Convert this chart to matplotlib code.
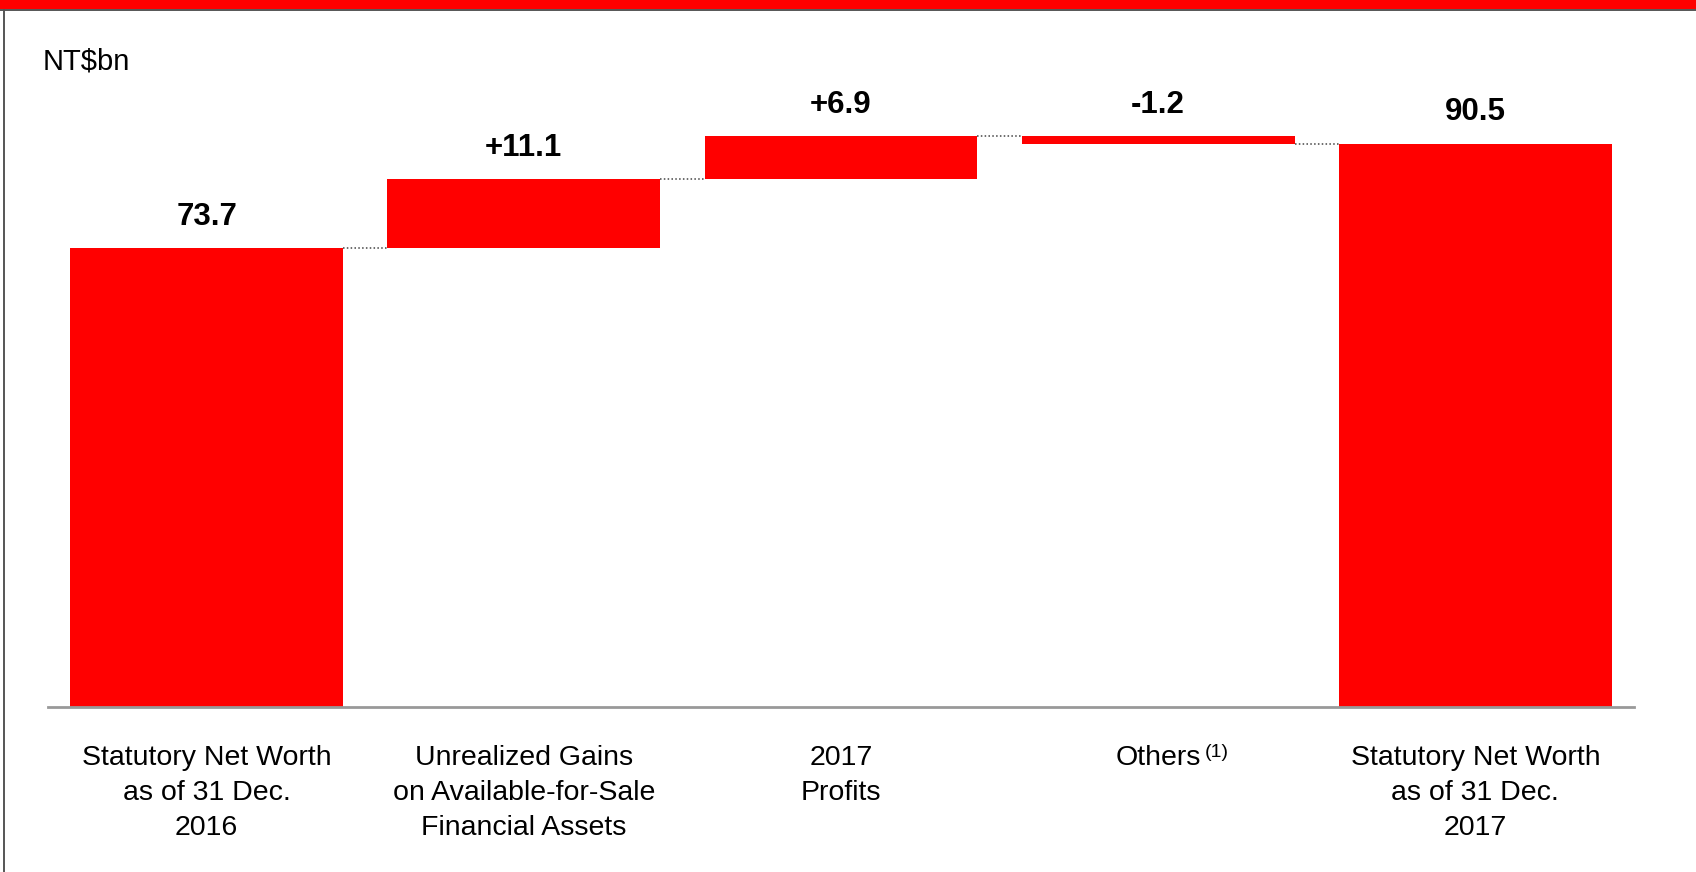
import matplotlib
matplotlib.use("Agg")
import matplotlib.pyplot as plt
from matplotlib.patches import Rectangle
from matplotlib.lines import Line2D
import numpy as np

plt.rcParams['font.family'] = ['Liberation Sans', 'DejaVu Sans']

# net worth bridge, NT$bn
categories = ["Statutory Net Worth\nas of 31 Dec.\n2016",
              "Unrealized Gains\non Available-for-Sale\nFinancial Assets",
              "2017\nProfits",
              "Others",
              "Statutory Net Worth\nas of 31 Dec.\n2017"]
changes = [73.7, 11.1, 6.9, -1.2, 90.5]
kinds = ["total", "delta", "delta", "delta", "total"]
value_labels = ["73.7", "+11.1", "+6.9", "-1.2", "90.5"]

RED = "#ff0000"

# work out floating bar bottoms/tops
bottoms, tops = [], []
running = 0.0
for v, k in zip(changes, kinds):
    if k == "total":
        bottoms.append(0.0)
        tops.append(v)
        running = v
    else:
        new = running + v
        bottoms.append(min(running, new))
        tops.append(max(running, new))
        running = new
bottoms = np.array(bottoms)
tops = np.array(tops)
levels = [changes[0]]
for v, k in zip(changes[1:], kinds[1:]):
    levels.append(v if k == "total" else levels[-1] + v)

fig = plt.figure(figsize=(16.96, 8.72), dpi=100)
ax = fig.add_axes([0.0283, 0.1892, 0.9351, 0.7135])

x = np.arange(len(categories))
w = 0.86
ax.bar(x, tops - bottoms, bottom=bottoms, width=w, color=RED, linewidth=0)

# dotted connectors between neighbouring bars
for i in range(len(x) - 1):
    ax.plot([x[i] + w / 2, x[i + 1] - w / 2], [levels[i], levels[i]],
            color="#444444", lw=1.1, ls=(0, (1, 1.5)))

for xi, top, lab in zip(x, tops, value_labels):
    ax.annotate(lab, xy=(xi, top), xytext=(0, 17), textcoords="offset points",
                ha="center", va="baseline", fontsize=22.5, fontweight="bold")

ax.set_xlim(-0.5, 4.5)
ax.set_ylim(0, 100)
for s in ["top", "right", "left"]:
    ax.spines[s].set_visible(False)
ax.spines["bottom"].set_color("#999999")
ax.spines["bottom"].set_linewidth(2)
ax.set_yticks([])
ax.set_xticks(x)
ax.set_xticklabels(categories, fontsize=20.5, linespacing=1.45)
ax.tick_params(axis="x", length=0, pad=27.5)

# footnote marker next to "Others"
others = ax.get_xticklabels()[3]
ax.annotate("(1)", xy=(1, 1), xycoords=others, xytext=(3, 1),
            textcoords="offset points", ha="left", va="top", fontsize=14)

fig.text(0.0252, 0.9205, "NT$bn", fontsize=21, ha="left", va="baseline")

# header strip and frame
fig.patches.append(Rectangle((0, 1 - 9.5 / 872), 1, 9.5 / 872, transform=fig.transFigure,
                             facecolor=RED, edgecolor="none"))
fig.lines.append(Line2D([0, 1], [1 - 10.5 / 872] * 2, transform=fig.transFigure,
                        color="#555555", lw=1.4))
fig.lines.append(Line2D([3.5 / 1696] * 2, [0, 1 - 10.5 / 872], transform=fig.transFigure,
                        color="#555555", lw=1.4))

fig.savefig("out.png", dpi=100)
